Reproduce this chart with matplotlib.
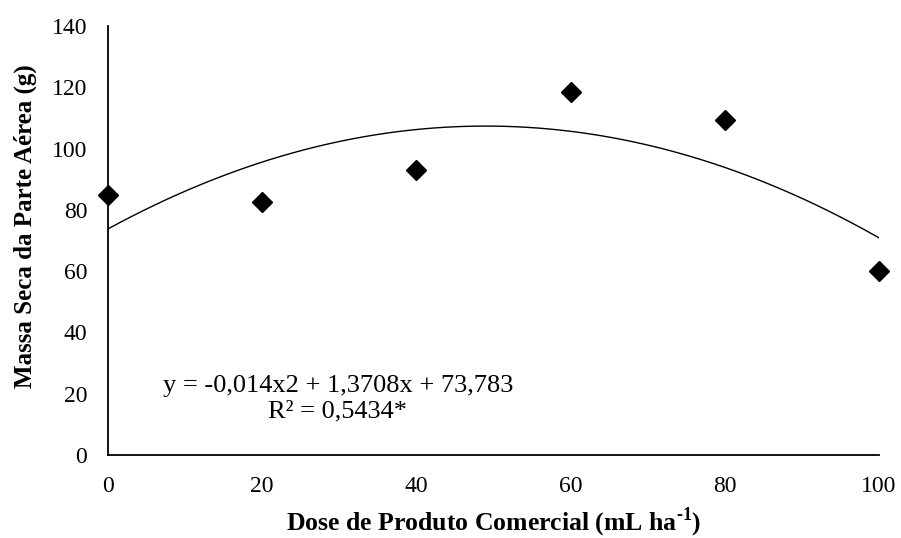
import numpy as np
import matplotlib.pyplot as plt

plt.rcParams['font.family'] = ['Liberation Serif', 'DejaVu Serif']
plt.rcParams['mathtext.fontset'] = 'custom'
plt.rcParams['mathtext.rm'] = 'Liberation Serif:bold'
plt.rcParams['mathtext.bf'] = 'Liberation Serif:bold'

# data
dose = [0, 20, 40, 60, 80, 100]
massa = [84.7, 82.4, 92.9, 118.5, 109.2, 60.1]

# trendline coefficients (from the equation shown on the chart)
coef = [-0.014, 1.3708, 73.783]
eq_text = "y = -0,014x2 + 1,3708x + 73,783\nR² = 0,5434*"

x_ticks = [0, 20, 40, 60, 80, 100]
y_ticks = [0, 20, 40, 60, 80, 100, 120, 140]

fig = plt.figure(figsize=(9.01, 5.38), dpi=100)
ax = fig.add_axes([0.1199, 0.1543, 0.8557, 0.7974])

xs = np.linspace(0, 100, 200)
ax.plot(xs, np.polyval(coef, xs), color='black', linewidth=1.0, zorder=2)
ax.plot(dose, massa, linestyle='none', marker='D', markersize=10,
        color='black', zorder=3, clip_on=False)

ax.set_xlim(0, 100)
ax.set_ylim(0, 140)
ax.set_xticks(x_ticks)
ax.set_yticks(y_ticks)
ax.tick_params(length=0, labelsize=17, pad=15)

for s in ['top', 'right']:
    ax.spines[s].set_visible(False)
for s in ['left', 'bottom']:
    ax.spines[s].set_linewidth(1.3)
    ax.spines[s].set_color('black')

ax.text(29.8, 18.5, eq_text, fontsize=19, ha='center', va='center',
        linespacing=1.2)

ax.set_xlabel(r'Dose de Produto Comercial (mL ha$^{\text{-1}}$)', fontsize=18.5,
              fontweight='bold', va='center')
ax.set_ylabel('Massa Seca da Parte Aérea (g)', fontsize=18,
              fontweight='bold', va='center')
ax.xaxis.set_label_coords(0.5, -0.156)
ax.yaxis.set_label_coords(-0.107, 0.534)

fig.savefig('out.png', dpi=100)
